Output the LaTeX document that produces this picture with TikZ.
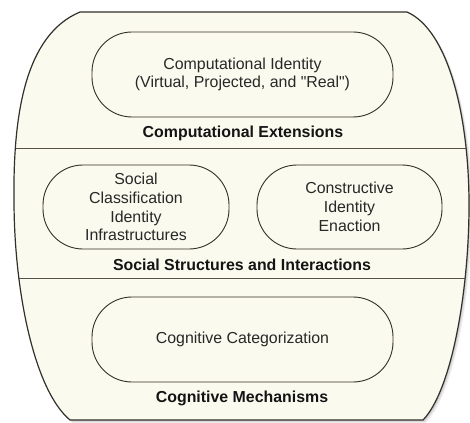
\documentclass[tikz,border=0pt]{standalone}
\usepackage{fontspec}
\setmainfont{Liberation Sans}[Ligatures=TeXOff]
\definecolor{cream}{RGB}{251,250,238}
\definecolor{edgec}{RGB}{50,48,42}
\definecolor{txtc}{RGB}{40,40,40}
\definecolor{divc}{RGB}{85,82,75}
\newcommand{\outerpath}[1]{\path[#1] (80,12) -- (407,12) .. controls (448,30) and (469,115) .. (469,205) .. controls (469,290) and (452,390) .. (423,420) -- (70,420) .. controls (34,390) and (14,290) .. (14,200) .. controls (13,115) and (25,35) .. (80,12) -- cycle;}
\newcommand{\mainsize}{\fontsize{15.9}{18.7}\selectfont}
\begin{document}
\begin{tikzpicture}[x=1pt,y=-1pt,
  capsule/.style={draw=edgec, line width=0.9pt, rounded corners=40pt, align=center, text=txtc, font=\mainsize, inner sep=0pt},
  layerlabel/.style={font=\mainsize\bfseries, text=black!92, inner sep=0pt},
  divider/.style={draw=divc, line width=1pt}]
\useasboundingbox (0,0) rectangle (470,422);
% shadow
\outerpath{fill=black, opacity=0.10, xshift=1pt, yshift=-1pt}
\outerpath{fill=black, opacity=0.08, xshift=2pt, yshift=-2pt}
\outerpath{fill=black, opacity=0.06, xshift=3pt, yshift=-3pt}
% body
\outerpath{fill=cream}
\begin{scope}
\outerpath{clip}
\coordinate (d1l) at (0,148);
\coordinate (d1r) at (470,148);
\coordinate (d2l) at (0,278);
\coordinate (d2r) at (470,278);
\draw[divider] (d1l) -- (d1r);
\draw[divider] (d2l) -- (d2r);
\end{scope}
\outerpath{draw=edgec, line width=1.2pt}
% capsules
\node[capsule, minimum width=301pt, minimum height=85pt] (ci) at (242.5,74.5) {Computational Identity\\(Virtual, Projected, and "Real")};
\node[layerlabel] (ce) at (243,133) {Computational Extensions};
\node[capsule, minimum width=186pt, minimum height=84pt] (sc) at (136,207) {Social\\Classification\\Identity\\Infrastructures};
\node[capsule, minimum width=185pt, minimum height=84pt] (cie) at (349.5,207) {Constructive\\Identity\\Enaction};
\node[layerlabel] (ssi) at (242,265) {Social Structures and Interactions};
\node[capsule, minimum width=301pt, minimum height=85pt] (cc) at (242.5,339.5) {Cognitive Categorization};
\node[layerlabel] (cm) at (242,398) {Cognitive Mechanisms};
\end{tikzpicture}
\end{document}
